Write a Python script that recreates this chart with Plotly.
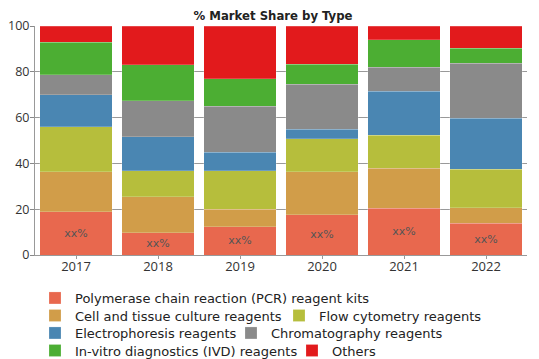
import plotly.graph_objects as go

years = ["2017", "2018", "2019", "2020", "2021", "2022"]
series_names = [
    "Polymerase chain reaction (PCR) reagent kits",
    "Cell and tissue culture reagents",
    "Flow cytometry reagents",
    "Electrophoresis reagents",
    "Chromatography reagents",
    "In-vitro diagnostics (IVD) reagents",
    "Others",
]
pcr = [18.9, 9.7, 12.4, 17.5, 20.4, 13.8]
cell = [17.5, 15.8, 7.6, 18.9, 17.5, 6.9]
flow = [19.5, 11.2, 16.8, 14.3, 14.4, 16.7]
electro = [14.0, 15.0, 8.0, 4.3, 19.3, 22.3]
chroma = [8.8, 15.7, 20.1, 19.5, 10.4, 24.0]
ivd = [14.2, 15.6, 12.0, 8.8, 11.9, 6.6]
others = [7.1, 17.0, 23.1, 16.7, 6.1, 9.7]
pcr_labels = ["xx%"] * 6
y_ticks = [0, 20, 40, 60, 80, 100]

colors = ["#E8684E", "#D19D49", "#B6BE3C", "#4A86B2", "#8A8A8A", "#4CAE33", "#E21A1C"]
values = [pcr, cell, flow, electro, chroma, ivd, others]

# page body has an 8px margin: the figure is sized/placed so the window shows it like the reference
W, H = 531, 351
ML, MR, MT = 27, 12, 18
PLOT_W, PLOT_H = 492, 229
MB = H - MT - PLOT_H

# legend entry placement (figure pixels): left edge of entry, row centre
legend_ids = ["legend", "legend2", "legend3", "legend4", "legend5", "legend6", "legend7"]
entry_left = [27, 27, 271, 27, 223, 27, 284]
entry_row = [290, 307.5, 307.5, 325, 325, 342.5, 342.5]

fig = go.Figure()
for i, (name, vals, col) in enumerate(zip(series_names, values, colors)):
    kw = {}
    if i == 0:
        kw = dict(text=pcr_labels, textposition="inside", insidetextanchor="middle",
                  textfont=dict(family="DejaVu Sans", size=11, color="#555555"))
    fig.add_trace(go.Bar(
        x=years, y=vals, name=name, legend=legend_ids[i],
        marker=dict(color=col, line=dict(color="rgba(255,255,255,0.4)", width=0.5)),
        hoverinfo="skip", **kw))

leg_font = dict(family="DejaVu Sans", size=13, color="#222222")
legends = {}
for lid, xl, yr in zip(legend_ids, entry_left, entry_row):
    legends[lid] = dict(orientation="h", xanchor="left", yanchor="middle",
                        x=(xl - ML) / PLOT_W, y=((MT + PLOT_H) - yr) / PLOT_H,
                        font=leg_font, itemwidth=30,
                        bgcolor="rgba(0,0,0,0)", borderwidth=0)

fig.update_layout(
    barmode="stack",
    bargap=0.12,
    width=W, height=H,
    margin=dict(l=ML, r=MR, t=MT, b=MB, autoexpand=False),
    paper_bgcolor="white", plot_bgcolor="white",
    showlegend=True,
    title=dict(text="<b>% Market Share by Type</b>", x=(ML + PLOT_W / 2 - 8) / W, xanchor="center",
               y=1 - 7 / H, yanchor="middle",
               font=dict(family="'DejaVu Sans Condensed', 'Liberation Sans Narrow', sans-serif", size=13, color="#222222")),
    font=dict(family="Open Sans", size=13, color="#333333"),
    uniformtext=dict(minsize=8, mode="show"),
    **legends,
)
fig.update_xaxes(showline=True, linecolor="#999999", linewidth=1, ticks="outside", ticklen=3,
                 tickcolor="#999999", showgrid=False, ticklabelstandoff=-4,
                 tickfont=dict(family="Open Sans", size=13, color="#333333"))
fig.update_yaxes(range=[0, 100], tickvals=y_ticks, showline=True, linecolor="#999999", linewidth=1,
                 ticks="outside", ticklen=4, tickcolor="#888888", showgrid=True, gridcolor="#999999",
                 gridwidth=1, zeroline=False, ticklabelstandoff=-2,
                 tickfont=dict(family="Open Sans", size=12.5, color="#333333"))

fig.write_html("out.html")
